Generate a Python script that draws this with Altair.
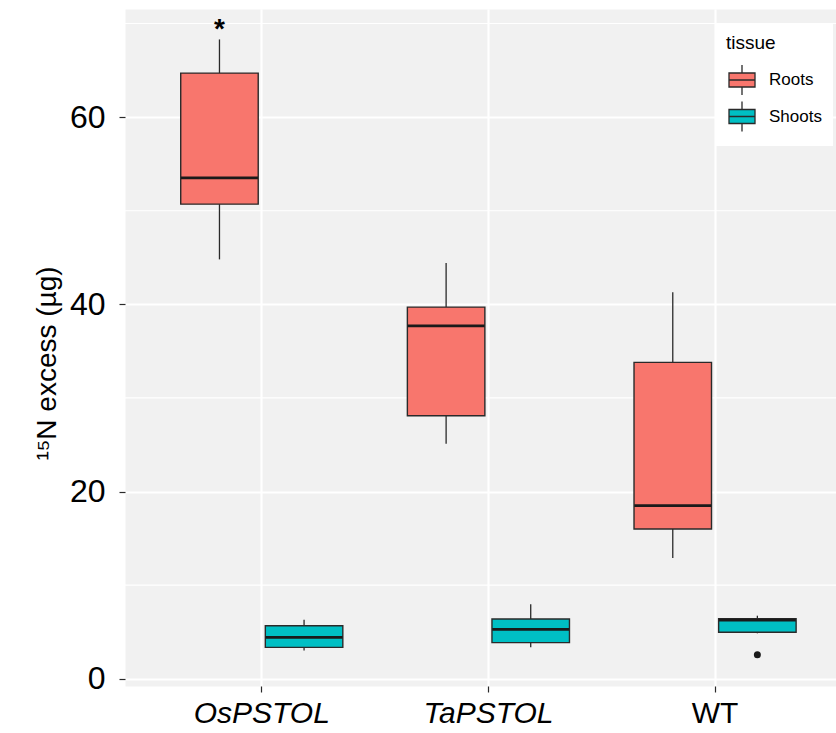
import altair as alt
import pandas as pd

# ---- data ----
genotypes = ["OsPSTOL", "OsPSTOL", "TaPSTOL", "TaPSTOL", "WT", "WT"]
tissues = ["Roots", "Shoots", "Roots", "Shoots", "Roots", "Shoots"]
whisker_low = [44.8, 3.0, 25.1, 3.35, 12.9, 4.85]
box_q1 = [50.7, 3.35, 28.1, 3.85, 16.0, 4.96]
box_median = [53.5, 4.42, 37.7, 5.28, 18.5, 6.25]
box_q3 = [64.7, 5.66, 39.7, 6.38, 33.8, 6.4]
whisker_high = [68.3, 6.3, 44.4, 7.95, 41.3, 6.73]

outlier_genotype = ["WT"]
outlier_tissue = ["Shoots"]
outlier_value = [2.55]

sig_genotype = ["OsPSTOL"]
sig_tissue = ["Roots"]
sig_value = [69.3]
sig_label = ["*"]

genotype_order = ["OsPSTOL", "TaPSTOL", "WT"]
tissue_order = ["Roots", "Shoots"]
tissue_colors = ["#F8766D", "#00BFC4"]
y_ticks = [0, 20, 40, 60]
minor_grid = [10, 30, 50, 70]

box_df = pd.DataFrame({
    "genotype": genotypes, "tissue": tissues,
    "low": whisker_low, "q1": box_q1, "median": box_median,
    "q3": box_q3, "high": whisker_high,
})
out_df = pd.DataFrame({"genotype": outlier_genotype, "tissue": outlier_tissue, "value": outlier_value})
sig_df = pd.DataFrame({"genotype": sig_genotype, "tissue": sig_tissue, "value": sig_value, "label": sig_label})
minor_df = pd.DataFrame({"value": minor_grid})

FONT = "Liberation Sans"
DARK = "#2a2a2a"

x_scale = alt.Scale(domain=genotype_order, paddingInner=0, paddingOuter=0.0685, align=0.755)
xo_scale = alt.Scale(domain=tissue_order, paddingInner=0.0839, paddingOuter=0.3815)
y_scale = alt.Scale(domain=[-0.78, 71.55], nice=False, zero=False)

x_axis = alt.Axis(
    labelFont=FONT, labelFontSize=30, labelColor="black", labelAngle=0,
    labelFontStyle={"expr": "datum.value == 'WT' ? 'normal' : 'italic'"},
    labelPadding=6, tickSize=6, tickColor=DARK, tickWidth=1.2, domain=False,
    grid=True, gridColor="white", gridWidth=2.2, bandPosition=0.5,
)
y_axis = alt.Axis(
    values=y_ticks, labelFont=FONT, labelFontSize=32, labelColor="black",
    labelPadding=14, tickSize=6, tickColor=DARK, tickWidth=1.2, domain=False,
    grid=True, gridColor="white", gridWidth=2.2,
    titleFont=FONT, titleFontSize=28, titleFontWeight="normal", titleColor="black",
    titlePadding=8, titleY=354,
)
Y_TITLE = "¹⁵N excess (µg)"

def X():
    return alt.X("genotype:N", scale=x_scale, axis=x_axis, title=None)

def XO():
    return alt.XOffset("tissue:N", scale=xo_scale)

legend_path = ("M0,-1L0,-0.467M0,0.467L0,1"
               "M-0.867,-0.467L0.867,-0.467L0.867,0.467L-0.867,0.467Z"
               "M-0.867,0L0.867,0")

minor = alt.Chart(minor_df).mark_rule(color="white", strokeWidth=1.1).encode(
    y=alt.Y("value:Q", scale=y_scale, axis=y_axis, title=Y_TITLE)
)

whiskers = alt.Chart(box_df).mark_rule(color=DARK, strokeWidth=1.3).encode(
    x=X(), xOffset=XO(),
    y=alt.Y("low:Q", scale=y_scale, axis=y_axis, title=Y_TITLE),
    y2="high:Q",
)

boxes = alt.Chart(box_df).mark_bar(stroke=DARK, strokeWidth=1.4, opacity=1).encode(
    x=X(), xOffset=XO(),
    y=alt.Y("q1:Q", scale=y_scale, axis=y_axis, title=Y_TITLE),
    y2="q3:Q",
    fill=alt.Fill(
        "tissue:N",
        scale=alt.Scale(domain=tissue_order, range=tissue_colors),
        legend=alt.Legend(
            title="tissue", orient="none", legendX=590, legendY=14,
            fillColor="white", padding=11,
            titleFont=FONT, titleFontSize=19, titleFontWeight="normal",
            titleColor="black", titlePadding=11,
            labelFont=FONT, labelFontSize=17, labelColor="black", labelOffset=11,
            symbolType=legend_path, symbolSize=900, symbolStrokeColor=DARK,
            symbolStrokeWidth=1.3, rowPadding=0.5,
        ),
    ),
)

medians = alt.Chart(box_df).mark_tick(color="#1a1a1a", thickness=2.8, size=77, opacity=1).encode(
    x=X(), xOffset=XO(),
    y=alt.Y("median:Q", scale=y_scale, axis=y_axis, title=Y_TITLE),
)

outliers = alt.Chart(out_df).mark_point(filled=True, color="#1a1a1a", size=49, opacity=1).encode(
    x=X(), xOffset=XO(),
    y=alt.Y("value:Q", scale=y_scale, axis=y_axis, title=Y_TITLE),
)

stars = alt.Chart(sig_df).mark_text(font=FONT, fontSize=28, fontWeight="bold",
                                    baseline="middle", color="black").encode(
    x=X(), xOffset=XO(),
    y=alt.Y("value:Q", scale=y_scale, axis=y_axis, title=Y_TITLE),
    text="label:N",
)

chart = alt.layer(minor, whiskers, boxes, medians, outliers, stars).properties(
    width=711, height=677,
    autosize=alt.AutoSizeParams(type="none"),
    padding={"left": 125, "top": 9, "right": 0, "bottom": 47},
    background="white",
).configure(font=FONT).configure_view(fill="#F1F1F1", stroke="transparent")

chart.save("out.html", embed_options={"renderer": "svg", "actions": False})
